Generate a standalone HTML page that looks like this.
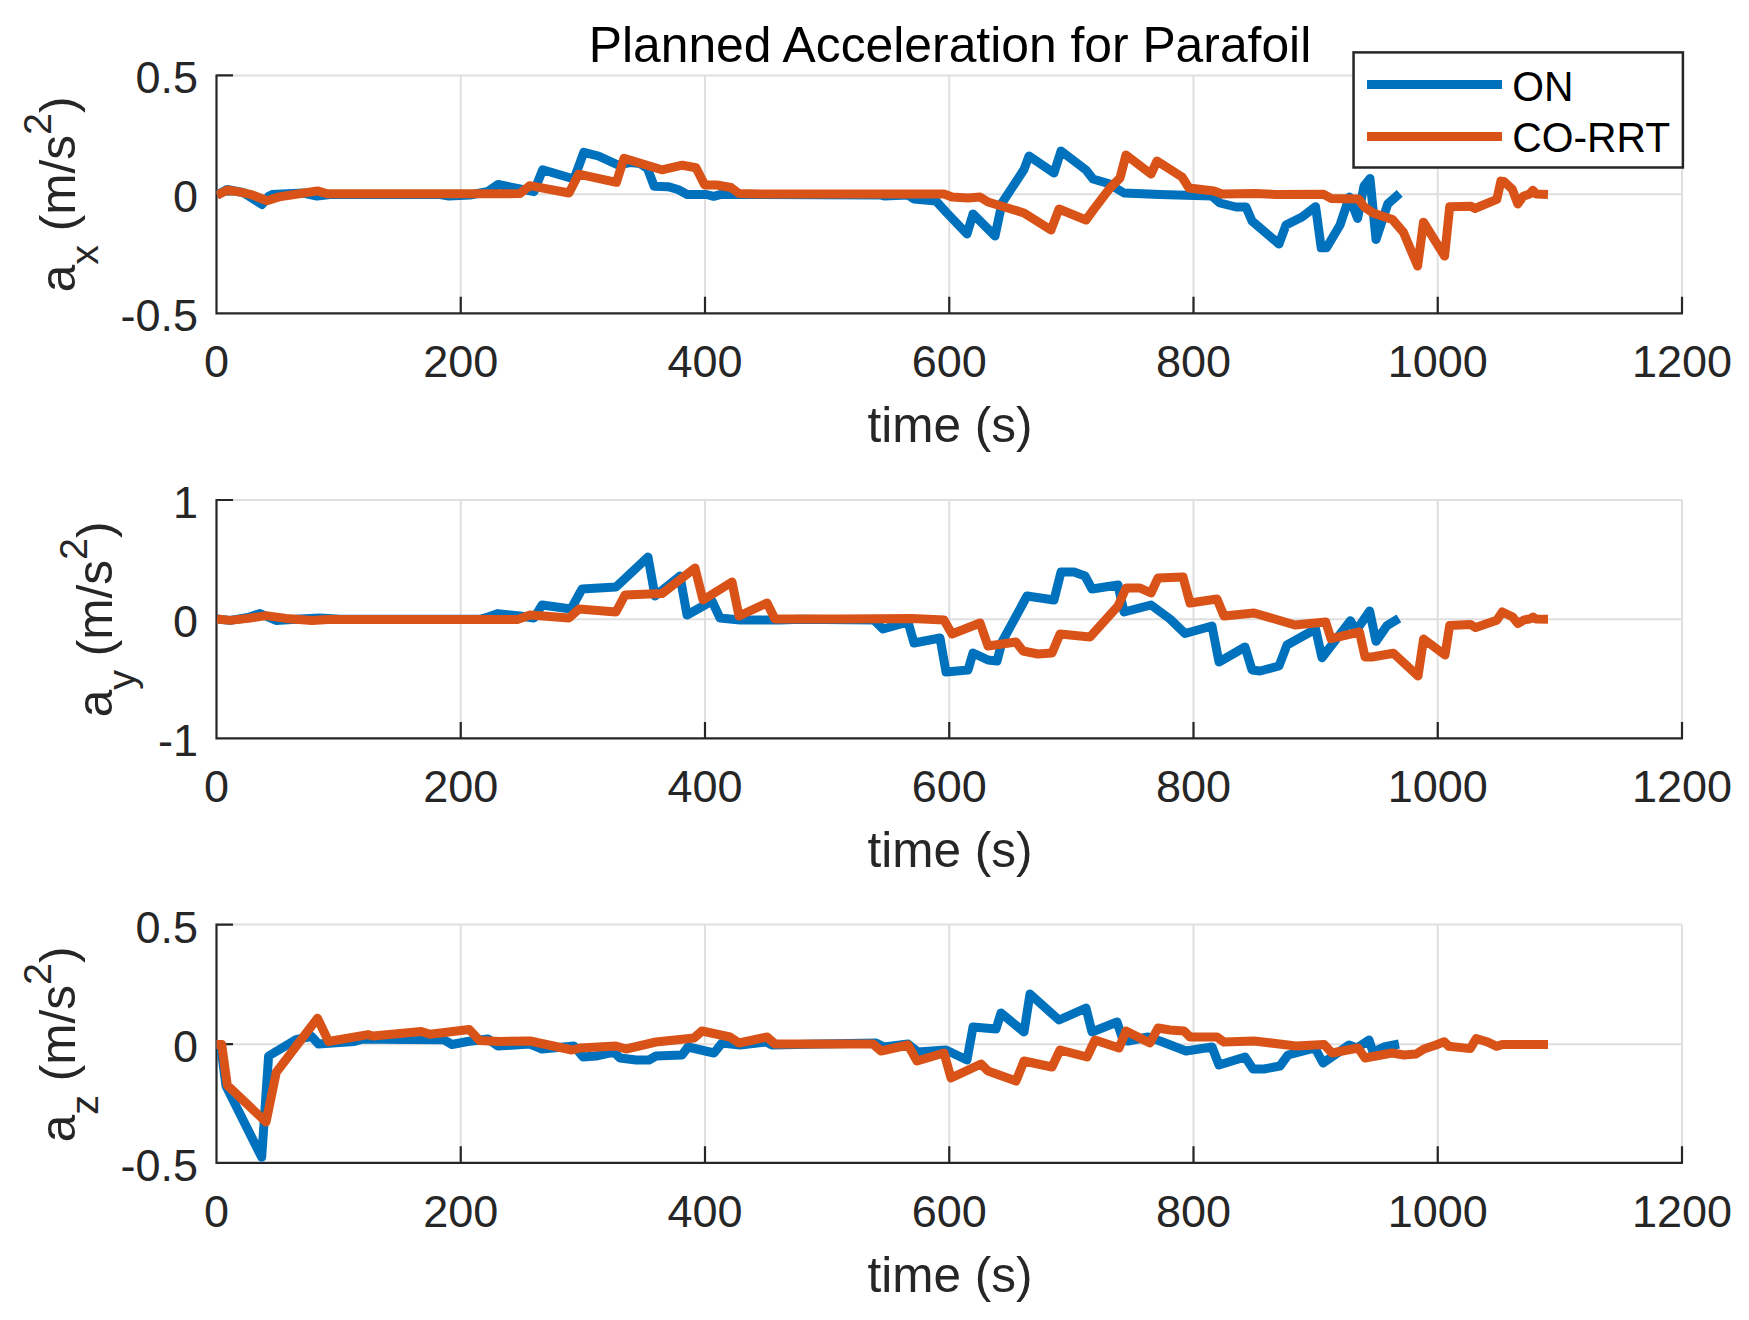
<!DOCTYPE html>
<html lang="en"><head><meta charset="utf-8"><title>Planned Acceleration for Parafoil</title>
<style>html,body{margin:0;padding:0;background:#fff}body{width:1749px;height:1320px;overflow:hidden}svg{display:block}text{font-family:"Liberation Sans",sans-serif}.t{font-size:45px;fill:#262626}.l{font-size:49.5px;fill:#262626}.s{font-size:39.6px}.d{fill:none;stroke-width:9;stroke-linejoin:round;stroke-linecap:butt}</style></head><body>
<svg width="1749" height="1320" viewBox="0 0 1749 1320">
<rect width="1749" height="1320" fill="#fff"/>
<text x="950" y="62.2" text-anchor="middle" font-size="49.8" fill="#000">Planned Acceleration for Parafoil</text>
<g>
<path d="M460.75 75.4V313.3M705 75.4V313.3M949.25 75.4V313.3M1193.5 75.4V313.3M1437.75 75.4V313.3M1682 75.4V313.3M216.5 75.4H1682M216.5 194.35H1682" stroke="#dfdfdf" stroke-width="2" fill="none"/>
<path d="M216.5 74.4V313.3H1683M460.75 313.3v-16.5M705 313.3v-16.5M949.25 313.3v-16.5M1193.5 313.3v-16.5M1437.75 313.3v-16.5M1682 313.3v-16.5M216.5 75.4h16.5M216.5 194.35h16.5M216.5 313.3h16.5" stroke="#262626" stroke-width="2.2" fill="none"/>
<clipPath id="c0"><rect x="216.5" y="75.4" width="1465.5" height="237.9"/></clipPath>
<g clip-path="url(#c0)"><polyline class="d" stroke="#0072BD" points="217,195 227,189.5 243,192.5 262,204.5 268.5,196.5 272,194.6 303,193 317,196 330,194.5 440,194.5 449,196 470,195 488,191.5 498,184.5 534,191.7 542.6,169.8 574,179 583.8,152.4 598.4,156 618,165 630,162.5 640,163.5 647.5,168.5 654.2,186.3 668,186.7 678,189.5 687.2,194.5 706.4,194.5 713.7,196.3 721,194.4 760,194.4 880,195 884,196 908,195 914,199 936,201 941,206.5 946,212 967,234 973,214 995,236 1002,203 1024,169.5 1029,156 1054,173 1061,151 1086,170 1093,179 1110,184 1114,187 1124,193 1160,194.4 1212,196 1220,203 1236,207 1246,207 1252,221 1279,244 1286,225 1302,217 1315.6,206.7 1321.2,247.8 1326.5,247.8 1340,225 1349.4,197 1357.6,218.5 1364,186 1370,178.5 1376,239.6 1387.8,203.9 1399.7,193.4"/>
<polyline class="d" stroke="#D95319" points="217,195.2 227.4,190 243,192.6 253,195.2 267,200.7 279,196.9 296,194.3 317.5,190.9 327,193.8 500,193.8 520,193.5 529.7,185.7 569,193 578.6,174.2 616.4,182.3 624,158.3 661.8,169.8 682.4,165.2 696,167.7 704.7,184.9 716.7,185 731,187.5 739,193.5 760,194 944,194 952,197 968,198 980,197 988,202 1024,213 1051,230 1059,209 1086,220 1094,209 1110,188 1120,178 1126,155 1151,174 1157,161 1182,177 1189,188 1214,191 1222,194 1256,193.6 1276,194.4 1323.8,194.3 1331,198.4 1358.6,198.9 1364,206.7 1373,213 1392.4,219.5 1403.4,232.3 1417.6,266.1 1423.5,222.2 1444.6,256.1 1449.7,206.7 1471.2,206.3 1474.8,208.5 1496.8,199.4 1500.9,181.1 1504,181.5 1512.3,189.3 1517.8,204 1523.3,196.2 1529.7,194 1532.9,190.3 1536.1,193.9 1548,194.4"/></g>
<text class="t" x="216.5" y="376.6" text-anchor="middle">0</text>
<text class="t" x="460.8" y="376.6" text-anchor="middle">200</text>
<text class="t" x="705" y="376.6" text-anchor="middle">400</text>
<text class="t" x="949.2" y="376.6" text-anchor="middle">600</text>
<text class="t" x="1193.5" y="376.6" text-anchor="middle">800</text>
<text class="t" x="1437.8" y="376.6" text-anchor="middle">1000</text>
<text class="t" x="1682" y="376.6" text-anchor="middle">1200</text>
<text class="t" x="198" y="93.4" text-anchor="end">0.5</text>
<text class="t" x="198" y="212.35" text-anchor="end">0</text>
<text class="t" x="198" y="331.3" text-anchor="end">-0.5</text>
<text class="l" x="950" y="441.9" text-anchor="middle">time (s)</text>
<text class="l" transform="translate(75 194.3) rotate(-90)" text-anchor="middle">a<tspan class="s" dy="23.4">x</tspan><tspan dy="-23.4"> (m/s</tspan><tspan class="s" dy="-24.3">2</tspan><tspan dy="24.3">)</tspan></text>
</g>
<g>
<path d="M460.75 500V738.4M705 500V738.4M949.25 500V738.4M1193.5 500V738.4M1437.75 500V738.4M1682 500V738.4M216.5 500H1682M216.5 619.2H1682" stroke="#dfdfdf" stroke-width="2" fill="none"/>
<path d="M216.5 499V738.4H1683M460.75 738.4v-16.5M705 738.4v-16.5M949.25 738.4v-16.5M1193.5 738.4v-16.5M1437.75 738.4v-16.5M1682 738.4v-16.5M216.5 500h16.5M216.5 619.2h16.5M216.5 738.4h16.5" stroke="#262626" stroke-width="2.2" fill="none"/>
<clipPath id="c1"><rect x="216.5" y="500" width="1465.5" height="238.4"/></clipPath>
<g clip-path="url(#c1)"><polyline class="d" stroke="#0072BD" points="217,619 230,620.4 248,617.5 260,613.5 276,620.5 300,619 320,618 340,619.3 480,619.3 488,617 498,613.6 520,616 534,618 542,605 571,609 582,589 616,587 648,557 655,596 680,576 687,615 712,601 720,618 740,620 780,620 800,619.3 874,620 883,629 908,622 914,643 940,638 946,672 968,670 973,653 988,660 997,661 1002,642 1027,596 1054,600 1061,572 1074,572 1085,576 1092,589 1118,585 1124,612 1151,605 1170,619 1185,633.5 1212,626 1219,662 1245,647 1252,670 1260,671 1279,666 1287,645 1315.6,629 1322,657.8 1350.4,620.7 1356,631 1369.6,611 1376,641.3 1387,625.7 1398.9,618.4"/>
<polyline class="d" stroke="#D95319" points="217,619 230,620.4 248,618.4 266,615.6 286,618.4 312,620.4 328,619.4 518,619.4 530,615 569,618 579,609 616,612 625,595 662,593.6 695,568 703,600 732,582 739,616 767,603 775,619 840,619 912,618.6 944,620 952,634 980,623 988,646 1016,642 1023,651 1038,654 1052,653 1060,634 1090,637 1118,606 1126,588 1140,588 1151,593 1158,578 1183,577 1190,603 1217,599 1224,616 1254,613 1295,625 1325.7,622 1331,638.6 1359.5,632 1365,656.9 1372,657 1393.4,653.2 1418,676 1423.6,639 1445,655 1449.7,625.4 1470.3,624.4 1475.7,627.6 1496.8,620.3 1502.3,612 1512.3,616.7 1517.8,623.5 1524.2,619.9 1529.7,619 1533,617 1536,619 1548,619.2"/></g>
<text class="t" x="216.5" y="801.6" text-anchor="middle">0</text>
<text class="t" x="460.8" y="801.6" text-anchor="middle">200</text>
<text class="t" x="705" y="801.6" text-anchor="middle">400</text>
<text class="t" x="949.2" y="801.6" text-anchor="middle">600</text>
<text class="t" x="1193.5" y="801.6" text-anchor="middle">800</text>
<text class="t" x="1437.8" y="801.6" text-anchor="middle">1000</text>
<text class="t" x="1682" y="801.6" text-anchor="middle">1200</text>
<text class="t" x="198" y="518.4" text-anchor="end">1</text>
<text class="t" x="198" y="637.35" text-anchor="end">0</text>
<text class="t" x="198" y="756.3" text-anchor="end">-1</text>
<text class="l" x="950" y="866.9" text-anchor="middle">time (s)</text>
<text class="l" transform="translate(111.5 619.3) rotate(-90)" text-anchor="middle">a<tspan class="s" dy="23.4">y</tspan><tspan dy="-23.4"> (m/s</tspan><tspan class="s" dy="-24.3">2</tspan><tspan dy="24.3">)</tspan></text>
</g>
<g>
<path d="M460.75 924.6V1162.8M705 924.6V1162.8M949.25 924.6V1162.8M1193.5 924.6V1162.8M1437.75 924.6V1162.8M1682 924.6V1162.8M216.5 924.6H1682M216.5 1044.2H1682" stroke="#dfdfdf" stroke-width="2" fill="none"/>
<path d="M216.5 923.6V1162.8H1683M460.75 1162.8v-16.5M705 1162.8v-16.5M949.25 1162.8v-16.5M1193.5 1162.8v-16.5M1437.75 1162.8v-16.5M1682 1162.8v-16.5M216.5 924.6h16.5M216.5 1044.2h16.5M216.5 1162.8h16.5" stroke="#262626" stroke-width="2.2" fill="none"/>
<clipPath id="c2"><rect x="216.5" y="924.6" width="1465.5" height="238.2"/></clipPath>
<g clip-path="url(#c2)"><polyline class="d" stroke="#0072BD" points="216,1044.4 220.5,1044.4 226,1086 261.7,1157.3 268.6,1056 296,1039.7 311.5,1036.3 318.4,1044 354.4,1041.5 363,1038.9 405.8,1039.4 443.6,1039.7 452,1044.5 467.6,1041.5 488,1039 498,1046 530,1044 542,1049 574,1046 583,1057 596,1056 614,1052 620,1058 636,1060 649,1060 656,1056 682,1055 688,1047 714,1053 722,1043 740,1045 766,1042 772,1045 820,1044 876,1043 884,1047 908,1044 918,1052 946,1050 967,1060 973,1027 996,1029 1001,1013 1024,1032 1030,994 1059,1020 1086,1008 1092,1032 1117,1022 1123,1040 1128,1041 1148,1037 1160,1041 1186,1051 1212,1047 1219,1065 1245,1057 1253,1069 1264,1069 1280,1066 1288,1055 1315,1048 1323,1063 1349,1045 1357,1048 1369,1040 1373,1052 1384,1047 1399,1044"/>
<polyline class="d" stroke="#D95319" points="216,1044.4 221.7,1044.4 227.3,1085.2 266,1122 276.3,1072.3 317.5,1018.3 328.6,1041.5 368,1034.6 373,1036 421.3,1031.5 430,1034.3 469.3,1029.5 479.6,1040.6 500,1041.5 530,1041 572,1050 580,1048 616,1046 626,1049 656,1042 694,1038 702,1031 730,1037 739,1043 767,1037 775,1044 873,1044 881,1051 908,1045 917,1061 944,1053 951,1078 981,1064 988,1071 1016,1081 1024,1061 1052,1067 1060,1050 1087,1057 1095,1040 1119,1048 1126,1031 1150,1043 1158,1028 1170,1030 1184,1031 1190,1037 1217,1037 1224,1042 1254,1041 1296,1046 1324,1044.4 1332,1053 1358,1048 1365,1058 1392,1053 1404,1055 1416,1054 1424,1049 1436,1045 1444.2,1041.7 1448.8,1046.3 1470.3,1048.6 1476.2,1038.5 1486.7,1041.7 1496.8,1046.3 1502.3,1044.4 1548,1044.4"/></g>
<text class="t" x="216.5" y="1226.6" text-anchor="middle">0</text>
<text class="t" x="460.8" y="1226.6" text-anchor="middle">200</text>
<text class="t" x="705" y="1226.6" text-anchor="middle">400</text>
<text class="t" x="949.2" y="1226.6" text-anchor="middle">600</text>
<text class="t" x="1193.5" y="1226.6" text-anchor="middle">800</text>
<text class="t" x="1437.8" y="1226.6" text-anchor="middle">1000</text>
<text class="t" x="1682" y="1226.6" text-anchor="middle">1200</text>
<text class="t" x="198" y="943.4" text-anchor="end">0.5</text>
<text class="t" x="198" y="1062.35" text-anchor="end">0</text>
<text class="t" x="198" y="1181.3" text-anchor="end">-0.5</text>
<text class="l" x="950" y="1291.9" text-anchor="middle">time (s)</text>
<text class="l" transform="translate(75 1044.3) rotate(-90)" text-anchor="middle">a<tspan class="s" dy="23.4">z</tspan><tspan dy="-23.4"> (m/s</tspan><tspan class="s" dy="-24.3">2</tspan><tspan dy="24.3">)</tspan></text>
</g>
<g><rect x="1353.55" y="52.4" width="329.35" height="115.1" fill="#fff" stroke="#262626" stroke-width="2.5"/>
<path d="M1367 84.5H1502" stroke="#0072BD" stroke-width="9"/><path d="M1367 136.5H1502" stroke="#D95319" stroke-width="9"/>
<text transform="translate(1512.3 100.7) scale(1 1.03)" font-size="40.8" fill="#000">ON</text><text transform="translate(1512.3 152.2) scale(1 1.03)" font-size="40.8" fill="#000">CO-RRT</text></g>
</svg></body></html>
